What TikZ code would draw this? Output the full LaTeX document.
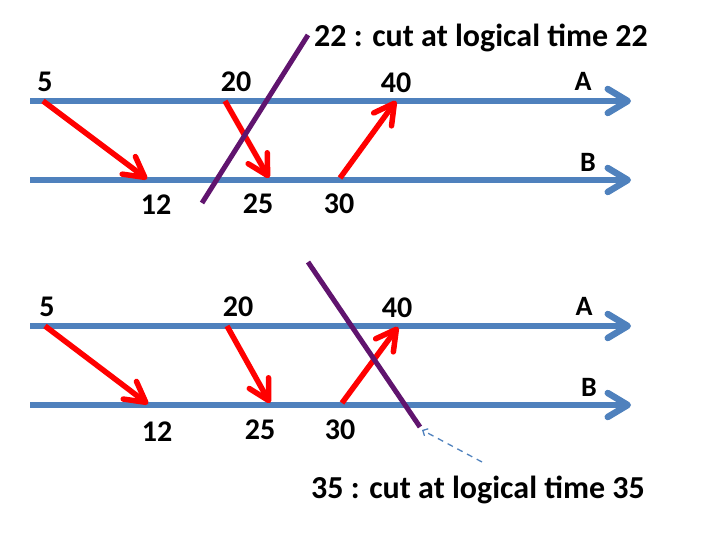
\documentclass[tikz,border=0pt]{standalone}
\usepackage{fontspec}
\setmainfont{Carlito}
\usetikzlibrary{arrows.meta}
\definecolor{lineblue}{RGB}{79,129,189}
\definecolor{cutpurple}{RGB}{96,20,110}
\definecolor{msgred}{RGB}{255,0,0}
\begin{document}
\begin{tikzpicture}[x=1pt,y=-1pt,
  timeline/.style={draw=lineblue,line width=6.5pt,-{Straight Barb[length=20pt,width=24pt,line width=6.5pt,round]}},
  msg/.style={draw=msgred,line width=5.5pt,-{Straight Barb[length=20pt,width=22pt,line width=5.5pt,round]}},
  cutline/.style={draw=cutpurple,line width=5pt},
  lbl/.style={font=\fontsize{30}{32}\selectfont\bfseries,inner sep=0pt},
  proc/.style={font=\fontsize{28}{30}\selectfont\bfseries,inner sep=0pt},
  note/.style={font=\fontsize{32}{34}\selectfont\bfseries,inner sep=0pt,anchor=west}]
\useasboundingbox (0,0) rectangle (720,540);
% ---------- top ----------
\coordinate (tA0) at (30,101); \coordinate (tA1) at (631,101);
\coordinate (tB0) at (30,180); \coordinate (tB1) at (631,180);
\draw[timeline] (tA0) -- (tA1);
\draw[timeline] (tB0) -- (tB1);
\coordinate (t5) at (43,101); \coordinate (t12) at (147,179);
\coordinate (t20) at (225,101); \coordinate (t25) at (269,178);
\coordinate (t30) at (340,178); \coordinate (t40) at (396,101);
\draw[msg] (t5) -- (t12);
\draw[msg] (t20) -- (t25);
\draw[msg] (t30) -- (t40);
\coordinate (tc0) at (202,203); \coordinate (tc1) at (308,35);
\draw[cutline] (tc0) -- (tc1);
\node[lbl] (l5a) at (45,82) {5};
\node[lbl] (l20a) at (236,82) {20};
\node[lbl] (l40a) at (396,83) {40};
\node[proc] (lAa) at (583,81) {A};
\node[proc] (lBa) at (588,162) {B};
\node[lbl] (l12a) at (156,205) {12};
\node[lbl] (l25a) at (258,204) {25};
\node[lbl] (l30a) at (339,204) {30};
\node[note] (n22) at (314,38) {22 : cut at logical time 22};
% ---------- bottom ----------
\coordinate (bA0) at (30,326); \coordinate (bA1) at (631,326);
\coordinate (bB0) at (30,405); \coordinate (bB1) at (631,405);
\draw[timeline] (bA0) -- (bA1);
\draw[timeline] (bB0) -- (bB1);
\coordinate (b5) at (45,326); \coordinate (b12) at (148,404);
\coordinate (b20) at (227,326); \coordinate (b25) at (270,403);
\coordinate (b30) at (342,403); \coordinate (b40) at (398,327);
\draw[msg] (b5) -- (b12);
\draw[msg] (b20) -- (b25);
\draw[msg] (b30) -- (b40);
\coordinate (bc0) at (308,262); \coordinate (bc1) at (420,427);
\draw[cutline] (bc0) -- (bc1);
\node[lbl] (l5b) at (47,307) {5};
\node[lbl] (l20b) at (238,307) {20};
\node[lbl] (l40b) at (397,308) {40};
\node[proc] (lAb) at (584,306) {A};
\node[proc] (lBb) at (589,387) {B};
\node[lbl] (l12b) at (157,432) {12};
\node[lbl] (l25b) at (260,430) {25};
\node[lbl] (l30b) at (340,430) {30};
\node[note] (n35) at (311,490) {35 : cut at logical time 35};
\coordinate (dstart) at (482,462);
\coordinate (dend) at (422,430);
\draw[draw=lineblue,line width=1.3pt,dash pattern=on 6pt off 5pt,-{Straight Barb[length=4pt,width=8pt]}] (dstart) -- (dend);
\end{tikzpicture}
\end{document}
